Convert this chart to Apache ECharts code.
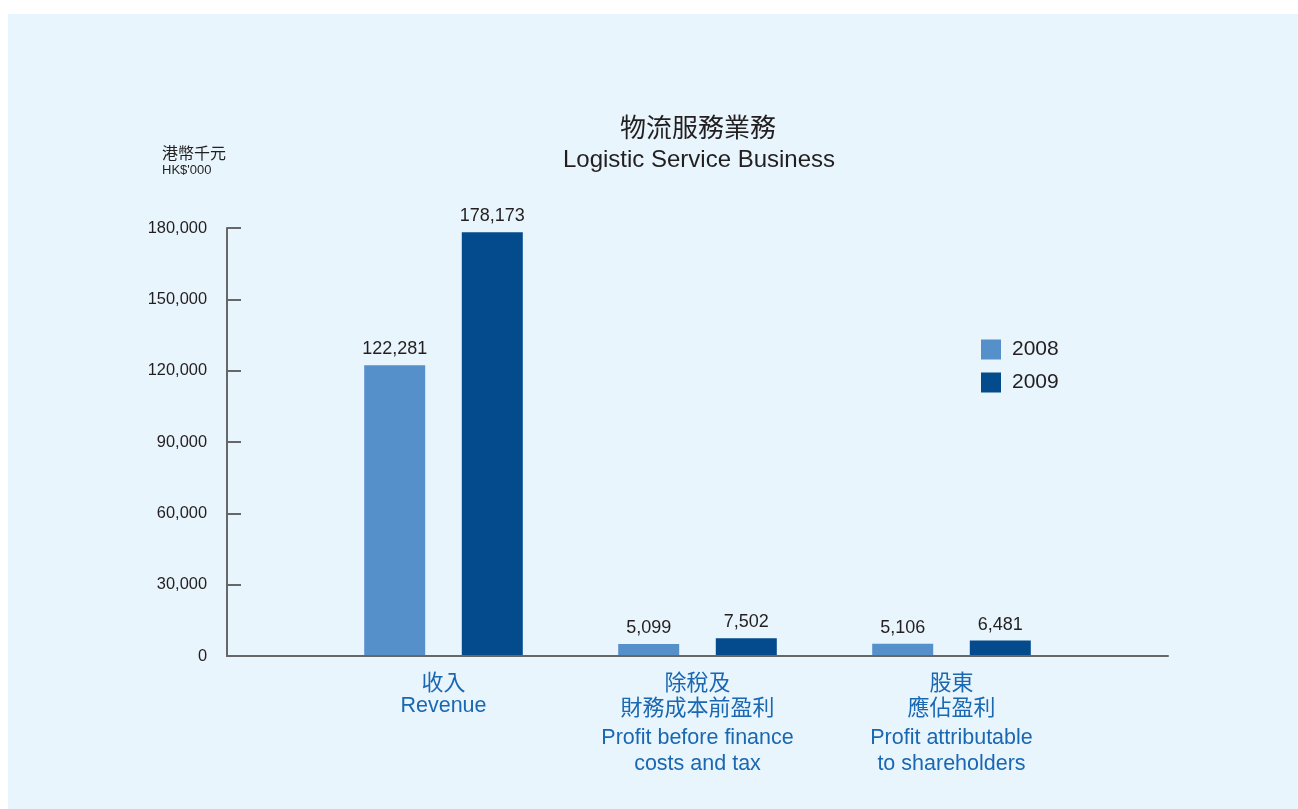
<!DOCTYPE html>
<html>
<head>
<meta charset="utf-8">
<title>物流服務業務 Logistic Service Business</title>
<script src="https://cdn.jsdelivr.net/npm/echarts@6/dist/echarts.min.js"></script>
<style>
  html, body { margin: 0; padding: 0; background: #ffffff; }
  #chart { width: 1298px; height: 809px; }
</style>
</head>
<body>
<div id="chart"></div>
<script>
// Categories: Chinese lines and English lines for each group
const categoryZh = [['收入'], ['除稅及', '財務成本前盈利'], ['股東', '應佔盈利']];
const categoryEn = [['Revenue'], ['Profit before finance', 'costs and tax'], ['Profit attributable', 'to shareholders']];
const categoryKeys = ['revenue', 'pbit', 'profit'];

// Values in HK$'000
const values2008 = [122281, 5099, 5106];
const values2009 = [178173, 7502, 6481];

// Axis ticks
const yTicks = [0, 30000, 60000, 90000, 120000, 150000, 180000];

const FONT = '"Liberation Sans", Arial, "Noto Sans CJK TC", sans-serif';
const FONT_ZH = '"Noto Sans CJK TC", "Liberation Sans", sans-serif';
const TEXT = '#231f20';
const BLUE_TEXT = '#1a67b2';
const AXIS = '#676767';

const fmt = v => v.toLocaleString('en-US');

const chart = echarts.init(document.getElementById('chart'), null, { renderer: 'canvas' });

const yMin = yTicks[0];
const yMax = yTicks[yTicks.length - 1];
const yStep = yTicks[1] - yTicks[0];

// Category label: Chinese lines, then English lines; the English block sits
// a little lower when the Chinese part wraps onto two lines.
function categoryLabel(key, idx) {
  const zh = categoryZh[idx].map(s => '{zh|' + s + '}');
  const en = categoryEn[idx].map((s, i) => {
    const style = zh.length === 1 ? 'enA' : (i === 0 ? 'enB' : 'enC');
    return '{' + style + '|' + s + '}';
  });
  return zh.concat(en).join('\n');
}

chart.setOption({
  backgroundColor: 'transparent',
  animation: false,
  graphic: [{
    type: 'rect',
    z: -100,
    silent: true,
    shape: { x: 8, y: 14, width: 1290, height: 795 },
    style: { fill: '#e8f5fc' }
  }],
  title: [
    {
      text: '物流服務業務',
      left: 698, top: 114, textAlign: 'center', padding: 0,
      textStyle: { fontFamily: FONT_ZH, fontSize: 26, fontWeight: 'normal', color: TEXT }
    },
    {
      text: 'Logistic Service Business',
      left: 699, top: 148, textAlign: 'center', padding: 0,
      textStyle: { fontFamily: FONT, fontSize: 24, fontWeight: 'normal', color: TEXT }
    },
    {
      text: '港幣千元',
      left: 162, top: 145, padding: 0,
      textStyle: { fontFamily: FONT_ZH, fontSize: 16, fontWeight: 'normal', color: TEXT }
    },
    {
      text: "HK$'000",
      left: 162, top: 164, padding: 0,
      textStyle: { fontFamily: FONT, fontSize: 13, fontWeight: 'normal', color: TEXT }
    }
  ],
  legend: {
    orient: 'vertical',
    left: 981, top: 339, padding: 0,
    itemWidth: 20, itemHeight: 20, itemGap: 12,
    icon: 'rect',
    textStyle: { fontFamily: FONT, fontSize: 21, color: TEXT, padding: [0, 0, 0, 6] },
    data: ['2008', '2009']
  },
  grid: [
    // Frame grid: carries the visible axes
    { left: 227, right: 130, top: 228, bottom: 153 },
    // Bar grid: narrower band holding the three groups
    { left: 316.5, width: 762, top: 228, bottom: 153 }
  ],
  xAxis: [
    {
      gridIndex: 0, type: 'value', min: 0, max: 1, z: 3,
      axisLine: { show: true, onZero: false, lineStyle: { color: AXIS, width: 2 } },
      axisTick: { show: false }, axisLabel: { show: false }, splitLine: { show: false }
    },
    {
      gridIndex: 1, type: 'category', data: categoryKeys,
      axisLine: { show: false }, axisTick: { show: false }, splitLine: { show: false },
      axisLabel: {
        interval: 0,
        margin: 13,
        formatter: categoryLabel,
        rich: {
          zh: { fontFamily: FONT_ZH, fontSize: 22, lineHeight: 25, color: BLUE_TEXT, align: 'center' },
          enA: { fontFamily: FONT, fontSize: 21.5, lineHeight: 24, color: BLUE_TEXT, align: 'center' },
          enB: { fontFamily: FONT, fontSize: 21.5, lineHeight: 38, color: BLUE_TEXT, align: 'center' },
          enC: { fontFamily: FONT, fontSize: 21.5, lineHeight: 15, color: BLUE_TEXT, align: 'center' }
        }
      }
    }
  ],
  yAxis: [
    {
      gridIndex: 0, type: 'value', min: yMin, max: yMax, interval: yStep,
      axisLine: { show: true, lineStyle: { color: AXIS, width: 2 } },
      axisTick: { show: true, inside: true, length: 14, lineStyle: { color: AXIS, width: 2 } },
      axisLabel: { margin: 20, fontFamily: FONT, fontSize: 16.4, color: TEXT, formatter: v => fmt(v) },
      splitLine: { show: false }
    },
    {
      gridIndex: 1, type: 'value', min: yMin, max: yMax, interval: yStep, show: false,
      splitLine: { show: false }
    }
  ],
  series: [
    {
      name: '2008', type: 'bar', xAxisIndex: 1, yAxisIndex: 1,
      data: values2008, barWidth: 61, barGap: '60%',
      itemStyle: { color: '#5590cb' },
      label: { show: true, position: 'top', distance: 7, fontFamily: FONT, fontSize: 18, color: TEXT, formatter: p => fmt(p.value) }
    },
    {
      name: '2009', type: 'bar', xAxisIndex: 1, yAxisIndex: 1,
      data: values2009, barWidth: 61, barGap: '60%',
      itemStyle: { color: '#034b8c' },
      label: { show: true, position: 'top', distance: 7, fontFamily: FONT, fontSize: 18, color: TEXT, formatter: p => fmt(p.value) }
    }
  ]
});
</script>
</body>
</html>
